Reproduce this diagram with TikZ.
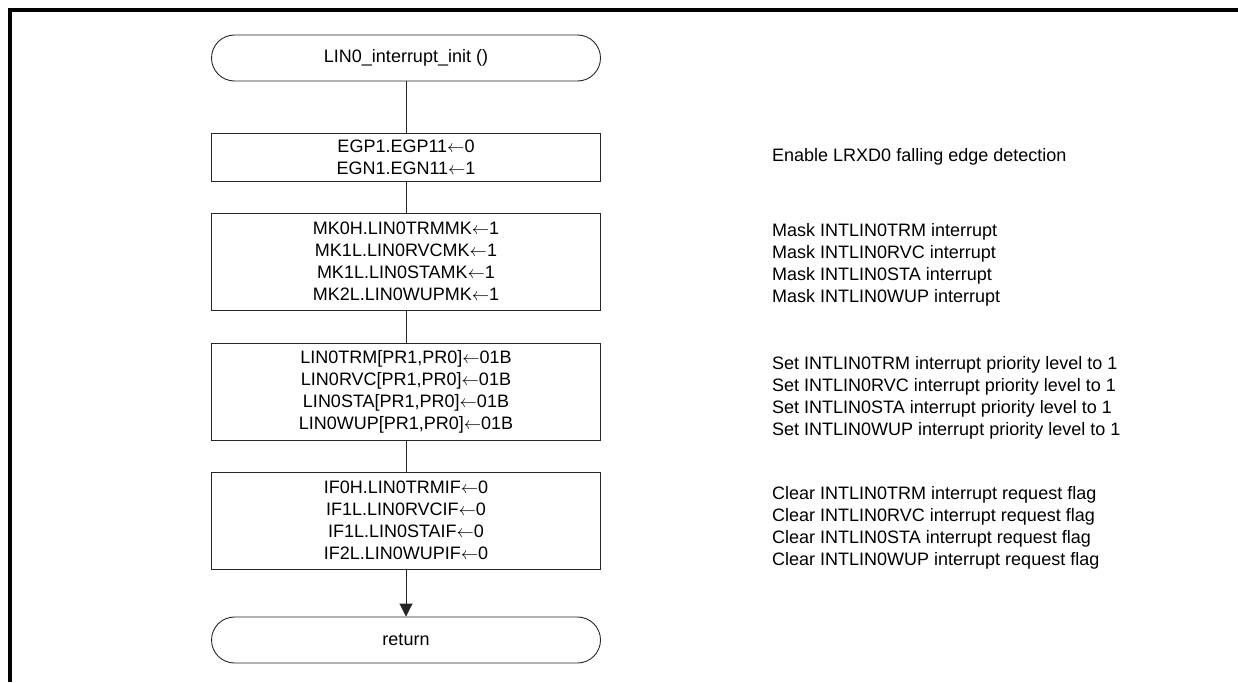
\documentclass[tikz,border=0pt]{standalone}
\usepackage{fontspec}
\setmainfont{Liberation Sans}
\usetikzlibrary{arrows.meta}
\newcommand\larr{\ensuremath{\leftarrow}}
\begin{document}
\begin{tikzpicture}[x=1pt,y=-1pt,
  every node/.style={font=\fontsize{18}{22}\selectfont, inner sep=0pt},
  proc/.style={draw=black!85, line width=0.9pt, minimum width=389pt, align=center},
  term/.style={draw=black!85, line width=0.9pt, minimum width=389pt, minimum height=46pt, rounded corners=23pt},
  note/.style={anchor=west, align=left},
  link/.style={draw=black!85, line width=0.9pt},
  frameline/.style={line width=3.5pt, line cap=butt}
]
\useasboundingbox (0,0) rectangle (1238,682);
\coordinate (ftl) at (10,10);
\coordinate (ftr) at (1238,10);
\coordinate (fbl) at (10,682);
\draw[frameline] (ftr) -- ([xshift=-1.75pt]ftl) ;
\draw[frameline] ([yshift=-1.75pt]ftl) -- (fbl);

\node[term] (start) at (406,58) {LIN0\_interrupt\_init ()};
\node[proc, minimum height=48pt] (b1) at (406,157) {EGP1.EGP11\larr0\\EGN1.EGN11\larr1};
\node[proc, minimum height=97pt] (b2) at (406,261.5) {MK0H.LIN0TRMMK\larr1\\MK1L.LIN0RVCMK\larr1\\MK1L.LIN0STAMK\larr1\\MK2L.LIN0WUPMK\larr1};
\node[proc, minimum height=97pt] (b3) at (406,391.5) {LIN0TRM[PR1,PR0]\larr01B\\LIN0RVC[PR1,PR0]\larr01B\\LIN0STA[PR1,PR0]\larr01B\\LIN0WUP[PR1,PR0]\larr01B};
\node[proc, minimum height=97pt] (b4) at (406,520.5) {IF0H.LIN0TRMIF\larr0\\IF1L.LIN0RVCIF\larr0\\IF1L.LIN0STAIF\larr0\\IF2L.LIN0WUPIF\larr0};
\node[term] (ret) at (406,640) {return};

\draw[link] (start) -- (b1);
\draw[link] (b1) -- (b2);
\draw[link] (b2) -- (b3);
\draw[link] (b3) -- (b4);
\draw[link, -{Triangle[length=13pt,width=13pt]}] (b4) -- (ret);

\node[note] (n1) at (772,157) {Enable LRXD0 falling edge detection};
\node[note] (n2) at (772,265) {Mask INTLIN0TRM interrupt\\Mask INTLIN0RVC interrupt\\Mask INTLIN0STA interrupt\\Mask INTLIN0WUP interrupt};
\node[note] (n3) at (772,397.5) {Set INTLIN0TRM interrupt priority level to 1\\Set INTLIN0RVC interrupt priority level to 1\\Set INTLIN0STA interrupt priority level to 1\\Set INTLIN0WUP interrupt priority level to 1};
\node[note] (n4) at (772,527.5) {Clear INTLIN0TRM interrupt request flag\\Clear INTLIN0RVC interrupt request flag\\Clear INTLIN0STA interrupt request flag\\Clear INTLIN0WUP interrupt request flag};
\end{tikzpicture}
\end{document}
